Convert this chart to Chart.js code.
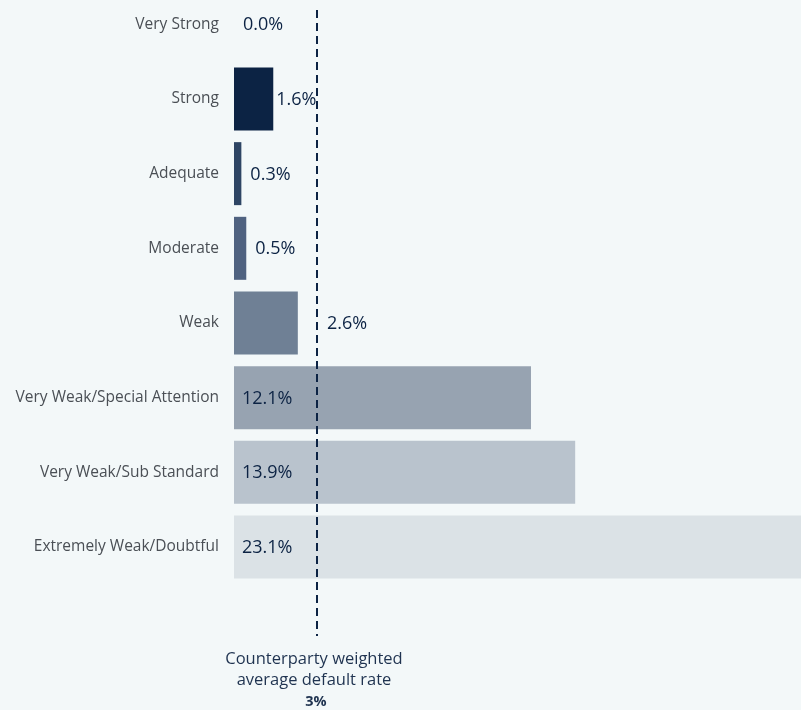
<!DOCTYPE html>
<html>
<head>
<meta charset="utf-8">
<script src="https://cdn.jsdelivr.net/npm/chart.js@4.4.0/dist/chart.umd.min.js"></script>
<style>
  html, body { margin: 0; padding: 0; background: #f3f8f9; }
  #wrap { width: 801px; height: 710px; position: relative; }
</style>
</head>
<body>
<div id="wrap"><canvas id="pdChart"></canvas></div>
<script>
// DATA
const grades = ["Very Strong", "Strong", "Adequate", "Moderate", "Weak",
  "Very Weak/Special Attention", "Very Weak/Sub Standard", "Extremely Weak/Doubtful"];
const defaultRates = [0.0, 1.6, 0.3, 0.5, 2.6, 12.1, 13.9, 23.1];
const barColors = ["#0c2344", "#0c2344", "#2e4564", "#4f6280", "#6f8095",
  "#97a3b1", "#b9c3cd", "#dbe2e6"];
const avgRate = 3;         // weighted average default rate (label)
const avgLinePos = 3.4;    // where the marker sits on the axis in the picture
const avgLabel = ["Counterparty weighted", "average default rate"];

const navy = "#0c2344";
const valueFont = "18px 'Open Sans'";

// draws the dashed average line, its caption and the value labels
const extrasPlugin = {
    id: 'extras',
    afterDatasetsDraw(chart) {
        const ctx = chart.ctx;
        const x = chart.scales.x;
        const lineX = Math.round(x.getPixelForValue(avgLinePos));

        ctx.save();
        ctx.strokeStyle = navy;
        ctx.lineWidth = 2;
        ctx.setLineDash([8, 5]);
        ctx.beginPath();
        ctx.moveTo(lineX, 10);
        ctx.lineTo(lineX, 636);
        ctx.stroke();
        ctx.setLineDash([]);

        // caption under the line
        ctx.fillStyle = "#1f3350";
        ctx.textAlign = 'center';
        ctx.textBaseline = 'middle';
        ctx.font = "16.5px 'Open Sans'";
        ctx.fillText(avgLabel[0], lineX - 3, 659);
        ctx.fillText(avgLabel[1], lineX - 3, 680);
        ctx.font = "bold 14.5px 'Open Sans'";
        ctx.fillText(avgRate + '%', lineX - 1, 702);

        // value labels
        ctx.font = valueFont;
        ctx.textAlign = 'left';
        ctx.fillStyle = navy;
        const meta = chart.getDatasetMeta(0);
        meta.data.forEach((bar, i) => {
            const v = defaultRates[i];
            const txt = v.toFixed(1) + '%';
            const w = ctx.measureText(txt).width;
            const end = x.getPixelForValue(v);
            let tx;
            if (v > 5) {
                tx = x.left + 8;
            } else if (end - x.left < 20) {
                tx = end + 9;
            } else {
                tx = end + 3;
                if (tx < lineX && tx + w > lineX + 8) tx = lineX + 10;
            }
            ctx.fillText(txt, tx, bar.y + 1);
        });
        ctx.restore();
    }
};

const pdChart = new Chart(document.getElementById('pdChart'), {
    type: 'bar',
    data: {
        labels: grades,
        datasets: [{
            data: defaultRates,
            backgroundColor: barColors,
            barThickness: 63,
            borderWidth: 0,
            inflateAmount: 0,
            clip: false,
        }]
    },
    options: {
        indexAxis: 'y',
        responsive: true,
        maintainAspectRatio: false,
        animation: false,
        layout: {
            padding: { top: 22, bottom: 163, left: 0, right: 0 }
        },
        scales: {
            x: {
                display: false,
                min: 0,
                max: 23.1,
            },
            y: {
                offset: false,
                grid: { display: false, drawTicks: false },
                border: { display: false },
                ticks: {
                    color: '#4a4f55',
                    padding: 15,
                    font: { family: 'Open Sans', size: 15.5 },
                },
                afterFit(scale) {
                    scale.width = 234;
                },
            },
        },
        plugins: {
            legend: { display: false },
            tooltip: { enabled: false },
        }
    },
    plugins: [extrasPlugin]
});
</script>
</body>
</html>
